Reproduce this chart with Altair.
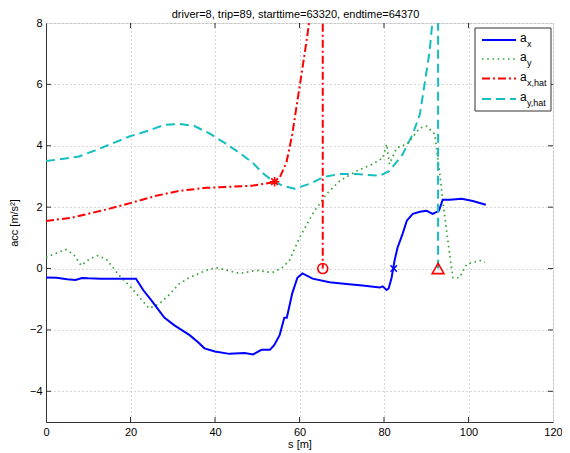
import altair as alt
import pandas as pd

TITLE = "driver=8, trip=89, starttime=63320, endtime=64370"
X_TITLE = "s [m]"
Y_TITLE = "acc [m/s²]"
X_TICKS = [0, 20, 40, 60, 80, 100, 120]
Y_TICKS = [-4, -2, 0, 2, 4, 6, 8]
X_DOMAIN = [0, 120]
Y_DOMAIN = [-5, 8]

# a_x (solid blue)
S_AX = [0, 2.5, 5, 7, 8.5, 10, 13, 17, 21.3, 23, 24.9, 28, 30.4, 34, 36, 37.5, 40, 43.4, 47, 49,
        51, 53, 54, 55.3, 56.4, 57, 58.3, 59.5, 60.7, 63.1, 67.1, 71.1, 74.9, 79.0, 79.7, 80.6,
        81.1, 81.8, 82.5, 83.2, 84.4, 85.4, 86.8, 88.5, 90.1, 91.5, 93.0, 93.9, 95.6, 98.4, 101.0, 104.1]
AX = [-0.29, -0.3, -0.35, -0.37, -0.31, -0.32, -0.33, -0.33, -0.33, -0.7, -1.03, -1.6, -1.85, -2.17,
      -2.4, -2.6, -2.7, -2.78, -2.75, -2.8, -2.65, -2.65, -2.5, -2.17, -1.6, -1.6, -0.8, -0.3, -0.16,
      -0.33, -0.45, -0.5, -0.55, -0.62, -0.58, -0.7, -0.65, -0.3, 0.26, 0.68, 1.13, 1.56, 1.78, 1.85,
      1.88, 1.78, 1.88, 2.24, 2.24, 2.27, 2.2, 2.08]

# a_y (dotted green)
S_AY = [0, 2.4, 4.7, 6.6, 8.3, 10.2, 12.1, 14.2, 17.3, 20.4, 22.5, 24.4, 26.8, 29.2, 31.5, 33.9,
        37.9, 40.3, 45.8, 49.8, 53.6, 56.0, 57.6, 60.0, 63.1, 66.4, 69.5, 73.5, 77.3, 79.7, 80.6,
        81.3, 83.0, 85.4, 88.5, 90.1, 92.0, 93.2, 93.9, 94.9, 96.3, 97.9, 99.6, 102.7, 103.9]
AY = [0.36, 0.5, 0.62, 0.45, 0.1, 0.3, 0.42, 0.32, -0.22, -0.65, -1.0, -1.3, -1.15, -0.85, -0.5,
      -0.3, -0.06, 0.03, -0.16, -0.06, -0.13, 0.04, 0.26, 1.0, 1.78, 2.43, 2.85, 3.18, 3.4, 3.6,
      4.05, 3.4, 3.93, 4.05, 4.58, 4.64, 4.38, 3.1, 2.2, 1.13, -0.3, -0.3, 0.15, 0.26, 0.2]

# a_x,hat (dash-dot red)
S_AXH = [0, 6.2, 14.2, 20.4, 26.1, 31.5, 37.9, 42.7, 48.8, 53.6, 55.3, 56.9, 58.3, 59.5, 60.7, 61.9, 62.6]
AXH = [1.55, 1.66, 1.92, 2.15, 2.37, 2.53, 2.63, 2.66, 2.7, 2.8, 2.96, 3.45, 4.38, 5.46, 6.53, 7.63, 8.4]

# a_y,hat (dashed cyan)
S_AYH = [0, 7.8, 12.6, 19.7, 24.4, 28, 31.5, 35, 38.7, 42.2, 45.8, 48.9, 51.2, 53.6, 56.0, 58.8,
         62.4, 65.9, 69.5, 73.5, 79.0, 81.3, 84.4, 86.8, 88.5, 89.6, 90.8, 91.7]
AYH = [3.5, 3.65, 3.9, 4.3, 4.5, 4.68, 4.71, 4.65, 4.4, 4.1, 3.77, 3.45, 3.12, 2.86, 2.7, 2.6,
       2.76, 2.99, 3.08, 3.08, 3.02, 3.18, 3.72, 4.38, 5.03, 6.0, 7.08, 8.4]

# vertical markers and points
RED_VLINE_S = 65.5
CYAN_VLINE_S = 92.8
VLINE_TOP = 8.5
STAR_S, STAR_V = 54.1, 2.83
CIRCLE_S, CIRCLE_V = 65.5, 0
XMARK_S, XMARK_V = 82.3, 0
TRI_S, TRI_V = 92.8, 0

LEGEND_MAIN = ["a", "a", "a", "a"]
LEGEND_SUB = ["x", "y", "x,hat", "y,hat"]

BLUE = "#0000ff"
GREEN = "#35a535"
RED = "#ff0000"
CYAN = "#14bfbf"
FONT = "Liberation Sans"

W, H = 507, 399
xs = alt.Scale(domain=X_DOMAIN, nice=False, zero=False)
ys = alt.Scale(domain=Y_DOMAIN, nice=False, zero=False)

grid_color = "#b0b0b0"

XAXIS = alt.Axis(values=X_TICKS, grid=True, gridDash=[1, 3], gridColor=grid_color,
                 ticks=False, labelPadding=4, labelFlush=False, domainColor="#333333",
                 labelFont=FONT, labelFontSize=11, labelColor="#000",
                 titleFont=FONT, titleFontSize=11, titleFontWeight="normal",
                 titleColor="#000", titlePadding=1)
YAXIS = alt.Axis(values=Y_TICKS, grid=True, gridDash=[1, 3], gridColor=grid_color,
                 ticks=False, labelPadding=4, labelFlush=False, domainColor="#333333",
                 labelFont=FONT, labelFontSize=11, labelColor="#000",
                 titleFont=FONT, titleFontSize=11, titleFontWeight="normal",
                 titleColor="#000", titleX=-32, titleY=H / 2,
                 titleBaseline="middle", titleAngle=-90)


def X(field):
    return alt.X(field, scale=xs, title=X_TITLE, axis=XAXIS)


def Y(field):
    return alt.Y(field, scale=ys, title=Y_TITLE, axis=YAXIS)


layers = []

# inward ticks
tick_len_x = 5 / (H / (Y_DOMAIN[1] - Y_DOMAIN[0]))
tick_len_y = 5 / (W / (X_DOMAIN[1] - X_DOMAIN[0]))
tx = pd.DataFrame({"s": X_TICKS[1:-1], "a": Y_DOMAIN[0], "b": Y_DOMAIN[0] + tick_len_x,
                   "c": Y_DOMAIN[1], "d": Y_DOMAIN[1] - tick_len_x})
layers.append(alt.Chart(tx).mark_rule(color="#333333", strokeWidth=1).encode(x=X("s:Q"), y=Y("a:Q"), y2="b:Q"))
layers.append(alt.Chart(tx).mark_rule(color="#333333", strokeWidth=1).encode(x=X("s:Q"), y=Y("c:Q"), y2="d:Q"))
ty = pd.DataFrame({"v": Y_TICKS[:-1], "a": X_DOMAIN[0], "b": X_DOMAIN[0] + tick_len_y,
                   "c": X_DOMAIN[1], "d": X_DOMAIN[1] - tick_len_y})
layers.append(alt.Chart(ty).mark_rule(color="#333333", strokeWidth=1).encode(y=Y("v:Q"), x=X("a:Q"), x2="b:Q"))
layers.append(alt.Chart(ty).mark_rule(color="#333333", strokeWidth=1).encode(y=Y("v:Q"), x=X("c:Q"), x2="d:Q"))


def line(s, v, color, dash=None, width=2.0):
    df = pd.DataFrame({"s": s, "v": v})
    kw = dict(color=color, strokeWidth=width, clip=True)
    if dash:
        kw["strokeDash"] = dash
    return alt.Chart(df).mark_line(**kw).encode(x=X("s:Q"), y=Y("v:Q"), order="s:Q")


DASH_G = [1.6, 3.6]
DASH_R = [8, 3, 2, 3]
DASH_C = [9, 5]

layers.append(line(S_AYH, AYH, CYAN, DASH_C))
layers.append(line(S_AXH, AXH, RED, DASH_R))
layers.append(line(S_AY, AY, GREEN, DASH_G, 1.7))
layers.append(line(S_AX, AX, BLUE, None, 2.0))

# vertical lines
layers.append(alt.Chart(pd.DataFrame({"s": [RED_VLINE_S], "a": [CIRCLE_V], "b": [VLINE_TOP]})).mark_rule(
    color=RED, strokeWidth=2, strokeDash=DASH_R, clip=True).encode(x=X("s:Q"), y=Y("b:Q"), y2="a:Q"))
layers.append(alt.Chart(pd.DataFrame({"s": [CYAN_VLINE_S], "a": [TRI_V], "b": [VLINE_TOP]})).mark_rule(
    color=CYAN, strokeWidth=2, strokeDash=DASH_C, clip=True).encode(x=X("s:Q"), y=Y("b:Q"), y2="a:Q"))


def marker(s, v, shape, color, size, width=1.5):
    return alt.Chart(pd.DataFrame({"s": [s], "v": [v]})).mark_point(
        shape=shape, filled=False, color=color, size=size, strokeWidth=width, opacity=1).encode(
        x=X("s:Q"), y=Y("v:Q"))


STAR_PATH = "M-1,0L1,0M0,-1L0,1M-0.7,-0.7L0.7,0.7M-0.7,0.7L0.7,-0.7"
X_PATH = "M-1,-1L1,1M-1,1L1,-1"
layers.append(marker(STAR_S, STAR_V, STAR_PATH, RED, 90, 1.6))
layers.append(marker(CIRCLE_S, CIRCLE_V, "circle", RED, 100, 1.6))
layers.append(marker(XMARK_S, XMARK_V, X_PATH, BLUE, 40, 1.5))
layers.append(marker(TRI_S, TRI_V, "triangle-up", RED, 140, 1.6))

one = pd.DataFrame({"k": [0]})

# chart title as text above the plot area
layers.append(alt.Chart(one).mark_text(font=FONT, fontSize=11, align="center", baseline="middle", color="#000").encode(
    x=alt.value(W / 2 - 4), y=alt.value(-8), text=alt.value(TITLE)))

# legend box (pixel positions within plot area)
LX0, LX1, LY0, LY1 = 429, 505, 5, 88
layers.append(alt.Chart(one).mark_rect(fill="white", stroke="#333333", strokeWidth=1).encode(
    x=alt.value(LX0), x2=alt.value(LX1), y=alt.value(LY0), y2=alt.value(LY1)))
rows = [17, 36, 55.5, 76]
styles = [(BLUE, None, 2.0), (GREEN, DASH_G, 1.7), (RED, DASH_R, 2.0), (CYAN, DASH_C, 2.0)]
for i, (ry, (col, dash, wd)) in enumerate(zip(rows, styles)):
    kw = dict(color=col, strokeWidth=wd)
    if dash:
        kw["strokeDash"] = dash
    layers.append(alt.Chart(one).mark_rule(**kw).encode(
        x=alt.value(436), x2=alt.value(470), y=alt.value(ry)))
    layers.append(alt.Chart(one).mark_text(font=FONT, fontSize=12, align="left", baseline="middle", color="#000").encode(
        x=alt.value(474), y=alt.value(ry - 2), text=alt.value(LEGEND_MAIN[i])))
    layers.append(alt.Chart(one).mark_text(font=FONT, fontSize=9, align="left", baseline="middle", color="#000").encode(
        x=alt.value(481), y=alt.value(ry + 4), text=alt.value(LEGEND_SUB[i])))

chart = alt.layer(*layers).properties(
    width=W, height=H,
    autosize=alt.AutoSizeParams(type="none"),
    padding={"left": 38, "top": 15, "right": 9, "bottom": 31},
).configure_view(stroke="#333333", strokeWidth=1).configure(background="white")

chart.save("out.html", embed_options={"renderer": "svg", "actions": False})
